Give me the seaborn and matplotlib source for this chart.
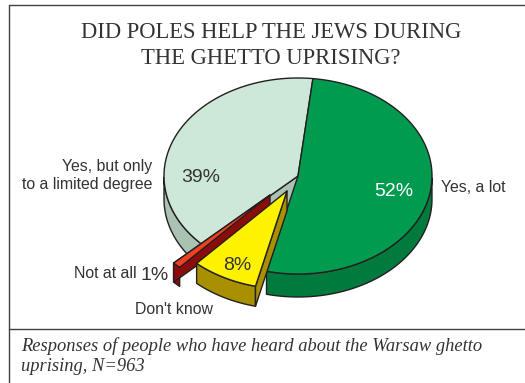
import numpy as np
import matplotlib
matplotlib.use("Agg")
import matplotlib.pyplot as plt
import seaborn as sns

# Survey shares, clockwise from the top of the pie
categories = ["Yes, a lot", "Don't know", "Not at all", "Yes, but only\nto a limited degree"]
shares = [52, 8, 1, 39]
share_labels = ["52%", "8%", "1%", "39%"]
top_colors = ["#009b4e", "#fff200", "#ee4023", "#cde7d8"]
side_colors = ["#007a3d", "#a89000", "#8b0d0b", "#a9c2b2"]
explode = [(0, 0), (-11, 15), (-28, 19), (0, 0)]
depths = [23, 20, 19, 23]

title_lines = "DID POLES HELP THE JEWS DURING\nTHE GHETTO UPRISING?"
note_lines = "Responses of people who have heard about the Warsaw ghetto\nuprising, N=963"

sns.set_theme(style="white")
plt.rcParams["font.family"] = ["Liberation Sans", "DejaVu Sans"]

W, H = 525, 383
fig = plt.figure(figsize=(W / 100, H / 100), dpi=100)
ax = fig.add_axes([0, 0, 1, 1])
ax.set_xlim(0, W)
ax.set_ylim(H, 0)
ax.axis("off")

CX, CY, RX, RY = 298, 176, 134, 98
START = 6.4
EDGE = "#231f20"

spans = np.cumsum([0] + shares) * 3.6 + START


def rim(t, ox, oy):
    t = np.radians(t)
    return CX + ox + RX * np.sin(t), CY + oy - RY * np.cos(t)


def draw_slice(i, order):
    a, b = spans[i], spans[i + 1]
    ox, oy = explode[i]
    d = depths[i]
    ts = np.linspace(a, b, 160)
    xs, ys = rim(ts, ox, oy)
    apex = (CX + ox, CY + oy)
    kw = dict(edgecolor=EDGE, linewidth=1.0, joinstyle="round", zorder=order)

    # Outer wall: only the part of the rim facing the viewer
    front = ts[(ts >= 90) & (ts <= 270)]
    if front.size:
        fx, fy = rim(front, ox, oy)
        ax.fill(np.r_[fx, fx[::-1]], np.r_[fy, fy[::-1] + d], facecolor=side_colors[i], **kw)

    # Radial wall on the cut edge that faces forward
    for t in ([a] if i == 1 else []) + ([b] if i == 2 else []) + ([a] if i == 3 else []):
        ex, ey = rim(t, ox, oy)
        ax.fill([apex[0], ex, ex, apex[0]], [apex[1], ey, ey + d, apex[1] + d],
                facecolor=side_colors[i], **kw)

    ax.fill(np.r_[apex[0], xs], np.r_[apex[1], ys], facecolor=top_colors[i], **kw)


for order, i in enumerate([3, 0, 2, 1]):
    draw_slice(i, 2 + order)

# Frame and the rule above the note
frame = dict(color="#404040", linewidth=1.0, zorder=10)
ax.plot([9, 9], [5, H], **frame)
ax.plot([9, W], [328.5, 328.5], **frame)
ax.plot([9, W], [5, 5], **frame)

ink = "#333333"
ax.text(271, 45.5, title_lines, family="Liberation Serif", fontsize=16.3, color=ink,
        ha="center", va="center", linespacing=1.25, zorder=11)

sans = dict(fontsize=11.4, color=ink, zorder=11)
big = dict(fontsize=14, color=ink, zorder=11, ha="center", va="center")
ax.text(441, 188, categories[0], ha="left", va="center", **sans)
ax.text(174, 310, categories[1], ha="center", va="center", **sans)
ax.text(137, 274, categories[2], ha="right", va="center", **sans)
ax.text(152, 175, categories[3], ha="right", va="center", linespacing=1.25, **sans)

ax.text(394, 191.5, share_labels[0], **{**big, "color": "white"})
ax.text(237, 265.5, share_labels[1], **big)
ax.text(155, 276, share_labels[2], **big)
ax.text(201, 177.5, share_labels[3], **big)

ax.text(21, 356, note_lines, family="Liberation Serif", style="italic", fontsize=13.3,
        color=ink, ha="left", va="center", linespacing=1.2, zorder=11)

fig.savefig("out.png", dpi=100)
